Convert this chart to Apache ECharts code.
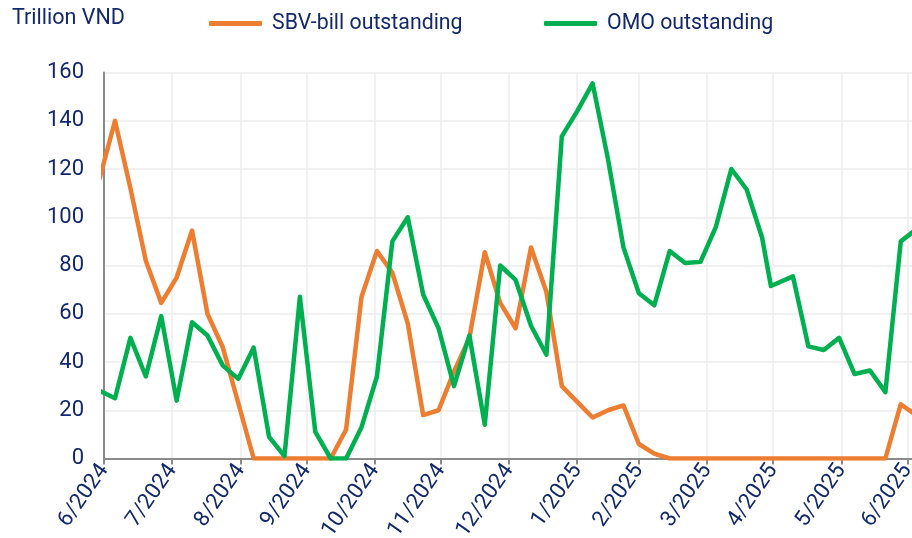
<!DOCTYPE html>
<html>
<head>
<meta charset="utf-8">
<script src="https://cdn.jsdelivr.net/npm/echarts@6/dist/echarts.min.js"></script>
<style>
  html, body { margin: 0; padding: 0; background: #fff; }
  #chart { width: 912px; height: 538px; }
</style>
</head>
<body>
<div id="chart"></div>
<script>
// weekly observation dates (Fridays, one holiday-shifted)
var dates = [
  '2024-06-28', '2024-07-05', '2024-07-12', '2024-07-19', '2024-07-26',
  '2024-08-02', '2024-08-09', '2024-08-16', '2024-08-23', '2024-08-30',
  '2024-09-06', '2024-09-13', '2024-09-20', '2024-09-27', '2024-10-04',
  '2024-10-11', '2024-10-18', '2024-10-25', '2024-11-01', '2024-11-08',
  '2024-11-15', '2024-11-22', '2024-11-29', '2024-12-06', '2024-12-13',
  '2024-12-20', '2024-12-27', '2025-01-03', '2025-01-10', '2025-01-17',
  '2025-01-24', '2025-01-31', '2025-02-07', '2025-02-14', '2025-02-21',
  '2025-02-28', '2025-03-07', '2025-03-14', '2025-03-21', '2025-03-28',
  '2025-04-04', '2025-04-11', '2025-04-18', '2025-04-25', '2025-04-29',
  '2025-05-09', '2025-05-16', '2025-05-23', '2025-05-30', '2025-06-06',
  '2025-06-13', '2025-06-20', '2025-06-27', '2025-07-04'
];

// SBV-bill outstanding (trillion VND)
var sbvBill = [
  116, 140, 112, 82, 64.5, 75, 94.5, 60, 46, 23,
  0, 0, 0, 0, 0, 0, 12, 67, 86, 77,
  56, 18, 20, 36, 50, 85.5, 64.5, 54, 87.5, 69,
  30, 23.5, 17, 20, 22, 6, 2, 0, 0, 0,
  0, 0, 0, 0, 0, 0, 0, 0, 0, 0,
  0, 0, 22.5, 18
];

// OMO outstanding (trillion VND)
var omo = [
  28, 25, 50, 34, 59, 24, 56.5, 51, 38.5, 33,
  46, 9, 1, 67, 11, 0, 0, 13, 34, 90,
  100, 68, 54, 30, 51, 14, 80, 74, 55, 43,
  133.5, 144, 155.5, 124, 87.5, 68.5, 63.5, 86, 81, 81.5,
  96, 120, 111.5, 91.5, 71.5, 75.5, 46.5, 45, 50, 35,
  36.5, 27.5, 90, 95
];

// month-end tick dates, labelled with their month
var monthTicks = [
  '2024-06-30', '2024-07-31', '2024-08-31', '2024-09-30', '2024-10-31',
  '2024-11-30', '2024-12-31', '2025-01-31', '2025-02-28', '2025-03-31',
  '2025-04-30', '2025-05-31', '2025-06-30'
];

var DAY = 86400000;
function ts(s) {
  var p = s.split('-');
  return Date.UTC(+p[0], +p[1] - 1, +p[2]);
}

var tickValues = monthTicks.map(ts);
var navy = '#13296b';
var gridColor = '#ececec';
var axisColor = '#8a8a8a';

function pairs(vals) {
  return dates.map(function (d, i) { return [ts(d), vals[i]]; });
}

var chart = echarts.init(document.getElementById('chart'));

chart.setOption({
  animation: false,
  textStyle: { fontFamily: 'Roboto' },
  title: {
    text: 'Trillion VND',
    left: 7,
    top: 3,
    textStyle: { fontFamily: 'Roboto', fontSize: 21.5, fontWeight: 'normal', color: navy }
  },
  legend: [
    {
      data: ['SBV-bill outstanding'],
      left: 204,
      top: 8,
      icon: 'roundRect',
      itemWidth: 53,
      itemHeight: 5,
      textStyle: { fontFamily: 'Roboto', fontSize: 21.3, color: navy, padding: [0, 0, 0, 5] }
    },
    {
      data: ['OMO outstanding'],
      left: 539,
      top: 8,
      icon: 'roundRect',
      itemWidth: 53,
      itemHeight: 5,
      textStyle: { fontFamily: 'Roboto', fontSize: 21.3, color: navy, padding: [0, 0, 0, 5] }
    }
  ],
  grid: {
    left: 104,
    right: 0,
    top: 72.5,
    bottom: 79.5,
    outerBoundsMode: 'none'
  },
  xAxis: {
    type: 'value',
    min: ts('2024-06-30'),
    max: ts('2025-06-30') + 2.1 * DAY,
    axisLine: { show: true, lineStyle: { color: axisColor, width: 2 } },
    axisTick: {
      show: true,
      length: 6,
      customValues: tickValues,
      lineStyle: { color: axisColor, width: 2 }
    },
    axisLabel: {
      customValues: tickValues,
      rotate: 55,
      margin: 8,
      fontFamily: 'Roboto',
      fontSize: 22,
      color: navy,
      formatter: function (v) {
        var d = new Date(v);
        return (d.getUTCMonth() + 1) + '/' + d.getUTCFullYear();
      }
    },
    splitLine: { show: true, lineStyle: { color: gridColor, width: 1.5 } }
  },
  yAxis: {
    type: 'value',
    min: 0,
    max: 160,
    interval: 20,
    axisLine: { show: true, lineStyle: { color: axisColor, width: 2 } },
    axisTick: { show: false },
    axisLabel: { margin: 20, fontFamily: 'Roboto', fontSize: 22, color: navy },
    splitLine: { show: true, lineStyle: { color: gridColor, width: 1.5 } }
  },
  series: [
    {
      name: 'SBV-bill outstanding',
      type: 'line',
      symbol: 'none',
      clip: true,
      color: '#ED7D31',
      lineStyle: { width: 4.5, color: '#ED7D31', join: 'round', cap: 'round' },
      data: pairs(sbvBill)
    },
    {
      name: 'OMO outstanding',
      type: 'line',
      symbol: 'none',
      clip: true,
      color: '#00B050',
      lineStyle: { width: 4.5, color: '#00B050', join: 'round', cap: 'round' },
      data: pairs(omo)
    }
  ]
});
</script>
</body>
</html>
